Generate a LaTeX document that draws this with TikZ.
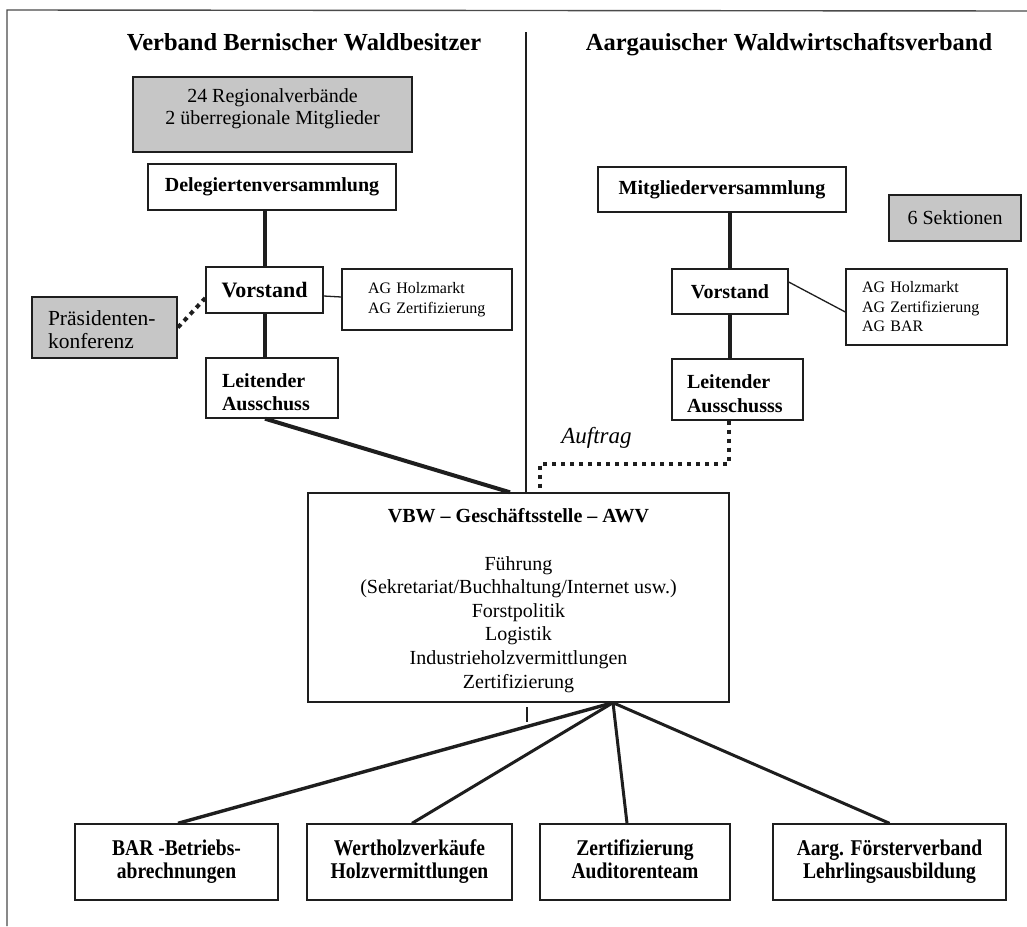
\documentclass[tikz,border=0pt]{standalone}
\usepackage{fontspec}
\setmainfont{Liberation Serif}
\newfontfamily\condfont[FakeStretch=0.87]{Liberation Serif}
\usetikzlibrary{calc}
\definecolor{boxgray}{RGB}{198,198,198}
\definecolor{ink}{RGB}{30,30,30}
\newcommand{\toprule}[1]{\rule{0pt}{#1}}
\newcommand{\botrule}[1]{\rule[-#1]{0pt}{#1}}
\begin{document}
\begin{tikzpicture}[x=1pt,y=-1pt,
  box/.style={draw=ink,line width=1.4pt,inner sep=0pt,fill=white,text=black},
  graybox/.style={box,fill=boxgray,line width=1.8pt},
  lbl/.style={font=\bfseries\fontsize{20}{23.5}\selectfont},
  regtext/.style={font=\fontsize{20}{23.5}\selectfont},
  smalltext/.style={font=\fontsize{16}{19.5}\selectfont},
  condtext/.style={font=\condfont\bfseries\fontsize{22.5}{23.3}\selectfont},
  titletext/.style={font=\bfseries\fontsize{24.5}{28}\selectfont,inner sep=0pt},
  thicklink/.style={draw=ink,line width=4pt},
  fanline/.style={draw=ink,line width=3pt},
  thinline/.style={draw=ink,line width=1.3pt},
  dotline/.style={draw=ink,line width=4pt,dash pattern=on 4.5pt off 4.5pt},
  frameline/.style={draw=ink!80,line width=1.4pt}]

\path[use as bounding box,fill=white] (0,0) rectangle (1027,926);

% frame and divider
\coordinate (fr1) at (1027,11);
\coordinate (fr2) at (7,10);
\coordinate (fr3) at (7,926);
\draw[frameline] (fr1) -- (fr2) -- (fr3);
\coordinate (dtop) at (526,32);
\coordinate (dbot) at (526,498);
\draw[thinline] (dtop) -- (dbot);
\coordinate (tick1) at (527,707);
\coordinate (tick2) at (527,722);
\draw[thinline] (tick1) -- (tick2);

% titles
\node[titletext,anchor=base] (t1) at (304,50) {Verband Bernischer Waldbesitzer};
\node[titletext,anchor=base] (t2) at (789,50) {Aargauischer Waldwirtschaftsverband};

% left side
\node[graybox,regtext,align=center,minimum width=279pt,minimum height=75pt] (rv) at (272.5,114.5)
  {\toprule{14pt}24 Regionalverbände\\[-1pt]2 überregionale Mitglieder\botrule{16pt}};
\node[box,lbl,minimum width=248pt,minimum height=46pt] (dv) at (272,187) {Delegiertenversammlung};
\node[box,font=\bfseries\fontsize{22}{25}\selectfont,minimum width=117pt,minimum height=46pt] (v1) at (264.5,290) {Vorstand};
\node[box,smalltext,align=left,inner xsep=26pt,text width=118pt,minimum width=170pt,minimum height=61pt] (ag1) at (427,299.5)
  {AG Holzmarkt\\AG Zertifizierung};
\node[graybox,font=\fontsize{21.5}{23.5}\selectfont,align=left,inner xsep=16pt,text width=113pt,minimum width=145pt,minimum height=61pt] (pk) at (104.5,327.5)
  {\toprule{24pt}Präsidenten-\\konferenz\botrule{5pt}};
\node[box,lbl,align=left,inner xsep=16pt,text width=100pt,minimum width=132pt,minimum height=60pt] (la1) at (272,388)
  {\toprule{26.5pt}Leitender\\Ausschuss\botrule{5pt}};

% right side
\node[box,lbl,minimum width=248pt,minimum height=45pt] (mv) at (722,189.5) {Mitgliederversammlung};
\node[graybox,regtext,minimum width=132pt,minimum height=46pt] (sk) at (955,218) {6 Sektionen};
\node[box,lbl,minimum width=116pt,minimum height=45pt] (v2) at (730,291.5) {Vorstand};
\node[box,smalltext,align=left,inner xsep=16pt,text width=129pt,minimum width=161pt,minimum height=76pt] (ag2) at (926.5,307)
  {AG Holzmarkt\\AG Zertifizierung\\AG BAR};
\node[box,lbl,align=left,inner xsep=15pt,text width=101pt,minimum width=131pt,minimum height=61pt] (la2) at (737.5,389.5)
  {\toprule{26.5pt}Leitender\\Ausschusss\botrule{5pt}};

% central office
\node[box,font=\fontsize{20}{23.6}\selectfont,align=center,minimum width=421pt,minimum height=209pt] (gs) at (518.5,597.5)
  {\toprule{20pt}\textbf{VBW -- Geschäftsstelle -- AWV}\\[24.4pt]
   Führung\\(Sekretariat/Buchhaltung/Internet usw.)\\Forstpolitik\\Logistik\\Industrieholzvermittlungen\\Zertifizierung\botrule{5pt}};

% bottom boxes
\node[box,condtext,align=center,minimum width=203pt,minimum height=76pt] (bar) at (176.5,862) {\strut BAR -Betriebs-\\abrechnungen\strut};
\node[box,condtext,align=center,minimum width=205pt,minimum height=76pt] (wh) at (409.5,862) {\strut Wertholzverkäufe\\Holzvermittlungen\strut};
\node[box,condtext,align=center,minimum width=190pt,minimum height=76pt] (zt) at (635,862) {\strut Zertifizierung\\Auditorenteam\strut};
\node[box,condtext,align=center,minimum width=233pt,minimum height=76pt] (af) at (889.5,862) {\strut Aarg. Försterverband\\Lehrlingsausbildung\strut};

% label
\node[font=\itshape\fontsize{23}{26}\selectfont,anchor=base,inner sep=0pt] (auf) at (596.5,443) {Auftrag};

% connectors
\draw[thicklink] (v1.north |- dv.south) -- (v1.north);
\draw[thicklink] (v1.south) -- (v1.south |- la1.north);
\draw[thicklink] (v2.north |- mv.south) -- (v2.north);
\draw[thicklink] (v2.south) -- (v2.south |- la2.north);
\draw[thinline] ($(v1.east)+(0,6)$) -- ($(ag1.west)+(0,-2.5)$);
\draw[thinline] ($(v2.east)+(0,-9.5)$) -- ($(ag2.west)+(0,5)$);
\draw[dotline] (pk.east) -- ($(v1.west)+(0,8)$);
\draw[thicklink] ([xshift=-7pt]la1.south) -- ([xshift=-8.5pt]gs.north);
\draw[dotline] ([xshift=-8.5pt]la2.south) -- ++(0,43) -| ([xshift=21.5pt]gs.north);

\coordinate (fan) at ($(gs.south)+(94.5,0)$);
\draw[fanline,line width=3.4pt] (fan) -- ([xshift=1.5pt]bar.north);
\draw[fanline] (fan) -- ([xshift=2.5pt]wh.north);
\draw[fanline] (fan) -- ([xshift=-8pt]zt.north);
\draw[fanline] (fan) -- (af.north);
\end{tikzpicture}
\end{document}
